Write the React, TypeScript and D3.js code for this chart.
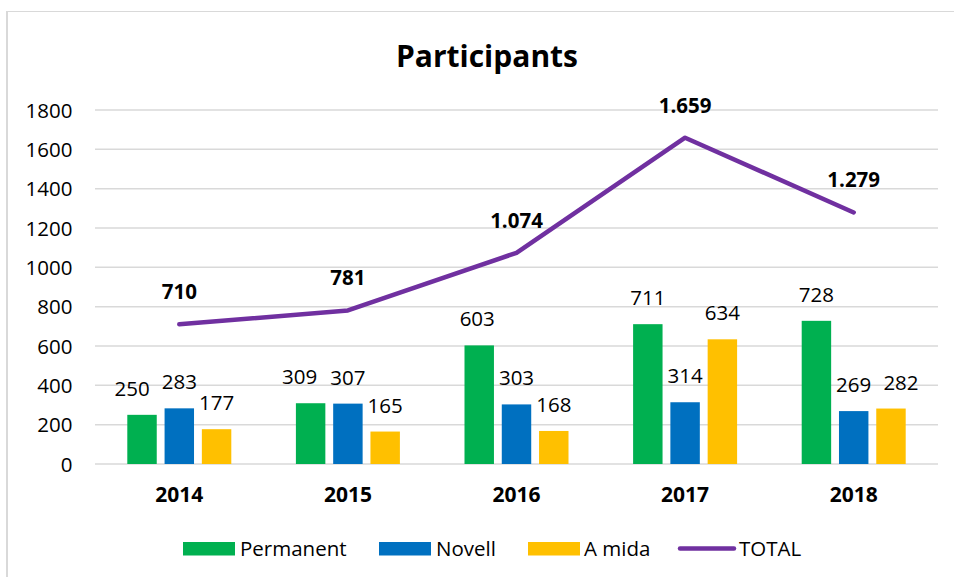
import React from "react";
import * as d3 from "d3";

const years = ["2014", "2015", "2016", "2017", "2018"];
const permanent = [250, 309, 603, 711, 728];
const novell = [283, 307, 303, 314, 269];
const aMida = [177, 165, 168, 634, 282];
const total = [710, 781, 1074, 1659, 1279];
const totalLabels = ["710", "781", "1.074", "1.659", "1.279"];
const yTicks = [0, 200, 400, 600, 800, 1000, 1200, 1400, 1600, 1800];
const seriesNames = ["Permanent", "Novell", "A mida"];
const seriesColors = ["#00B050", "#0070C0", "#FFC000"];
const totalColor = "#7030A0";

// manual label nudges (layout only)
const labelDx: number[][] = [
  [-10, 0, 0],
  [-11, 0, 0],
  [-2, 0, 0],
  [0, 0, 0],
  [0, 0, 10],
];

const W = 954;
const H = 577;
const FONT = "'Open Sans', 'DejaVu Sans', sans-serif";

export default function App() {
  const seriesValues = [permanent, novell, aMida];
  const x = d3.scaleBand<string>().domain(years).range([95, 938]).padding(0);
  const y = d3.scaleLinear().domain([0, 1800]).range([464, 110]);
  const inner = d3
    .scaleBand<string>()
    .domain(seriesNames)
    .range([-52, 52])
    .paddingInner(0.21)
    .paddingOuter(0);
  const cx = (yr: string) => (x(yr) ?? 0) + x.bandwidth() / 2;
  const line = d3
    .line<number>()
    .x((_, i) => cx(years[i]))
    .y((d) => y(d));

  const legendItems = [
    { type: "rect", x: 183, color: seriesColors[0], label: seriesNames[0], tx: 240 },
    { type: "rect", x: 379, color: seriesColors[1], label: seriesNames[1], tx: 436 },
    { type: "rect", x: 528, color: seriesColors[2], label: seriesNames[2], tx: 584 },
    { type: "line", x: 680, color: totalColor, label: "TOTAL", tx: 739 },
  ];

  return (
    <svg
      width={W}
      height={H}
      style={{ position: "absolute", left: 0, top: 0, background: "#fff" }}
      fontFamily={FONT}
    >
      <rect x={0} y={0} width={W} height={H} fill="#fff" />
      {/* chart border */}
      <line x1={7} y1={11.5} x2={W} y2={11.5} stroke="#D9D9D9" strokeWidth={1} />
      <line x1={7} y1={11} x2={7} y2={H} stroke="#D9D9D9" strokeWidth={2} />

      <text x={487} y={66.5} textAnchor="middle" fontSize={30} fontWeight="bold" fill="#000">
        Participants
      </text>

      {/* gridlines */}
      {yTicks.map((t) => (
        <g key={t}>
          <line x1={95} x2={938} y1={y(t)} y2={y(t)} stroke="#D9D9D9" strokeWidth={1.5} />
          <text x={72.5} y={y(t) + 7.5} textAnchor="end" fontSize={20.5} fill="#000">
            {t}
          </text>
        </g>
      ))}

      {/* bars */}
      {years.map((yr, i) => (
        <g key={yr}>
          {seriesValues.map((vals, s) => {
            const bx = cx(yr) + (inner(seriesNames[s]) ?? 0);
            const bw = inner.bandwidth();
            return (
              <g key={s}>
                <rect
                  x={bx}
                  y={y(vals[i])}
                  width={bw}
                  height={y(0) - y(vals[i])}
                  fill={seriesColors[s]}
                />
                <text
                  x={bx + bw / 2 + labelDx[i][s]}
                  y={y(vals[i]) - 19}
                  textAnchor="middle"
                  fontSize={20.5}
                  fill="#000"
                >
                  {vals[i]}
                </text>
              </g>
            );
          })}
          <text x={cx(yr)} y={502} textAnchor="middle" fontSize={21} fontWeight="bold" fill="#000">
            {yr}
          </text>
        </g>
      ))}

      {/* total line */}
      <path
        d={line(total) ?? ""}
        fill="none"
        stroke={totalColor}
        strokeWidth={4.5}
        strokeLinecap="round"
        strokeLinejoin="round"
      />
      {total.map((v, i) => (
        <text
          key={i}
          x={cx(years[i])}
          y={y(v) - 25}
          textAnchor="middle"
          fontSize={20.5}
          fontWeight="bold"
          fill="#000"
        >
          {totalLabels[i]}
        </text>
      ))}

      {/* legend */}
      {legendItems.map((it) => (
        <g key={it.label}>
          {it.type === "rect" ? (
            <rect x={it.x} y={542} width={52} height={13.5} fill={it.color} />
          ) : (
            <line
              x1={it.x}
              x2={it.x + 54}
              y1={548.5}
              y2={548.5}
              stroke={it.color}
              strokeWidth={4.5}
              strokeLinecap="round"
            />
          )}
          <text x={it.tx} y={556} fontSize={20.5} fill="#000">
            {it.label}
          </text>
        </g>
      ))}
    </svg>
  );
}
